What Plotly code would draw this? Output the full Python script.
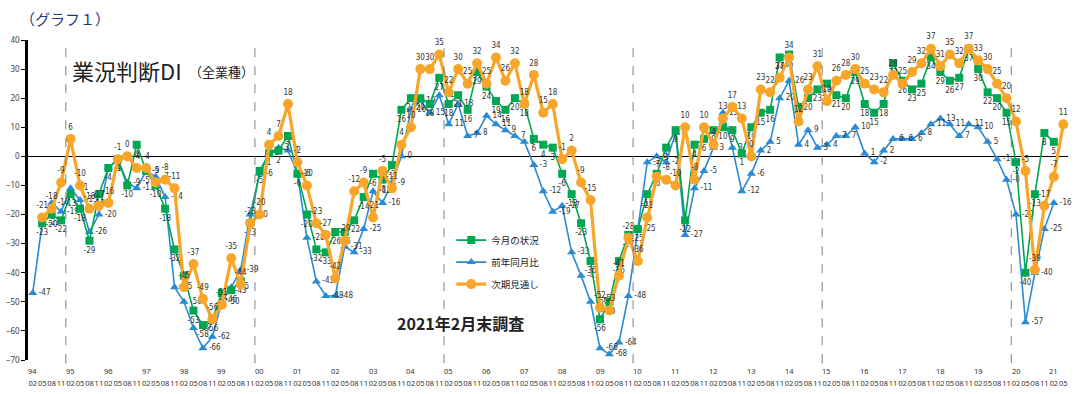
import plotly.graph_objects as go

YEARS = ['94','95','96','97','98','99','00','01','02','03','04','05','06','07',
         '08','09','10','11','12','13','14','15','16','17','18','19','20','21']
MONTHS = ['02','05','08','11']

# 今月の状況 (per year: Feb, May, Aug, Nov)
GENKYO = [None,-23,-20,-22,  -13,-18,-29,-13,  -4,-1,-10,4,  -5,-10,-18,-32,
          -41,-53,-58,-56,  -47,-46,-43,-23,  -5,1,2,7,  -6,-20,-32,-33,
          -26,-26,-22,-14,  -6,-8,-3,16,  20,20,18,27,  18,21,16,29,
          24,19,16,20,  18,6,4,3,  -6,-13,-23,-36,  -56,-50,-36,-27,
          -25,-13,-6,3,  9,-22,4,6,  9,10,9,1,  10,15,16,34,
          35,17,20,23,  25,21,20,29,  18,15,18,32,  26,23,25,34,
          29,26,27,37,  30,22,20,15,  -2,-40,-13,8,  5,None]
# 前年同月比
ZENNEN = [-47,-23,-16,-19,  -11,-15,-26,-20,  -4,-1,-9,-11,  -5,-7,-14,-45,
          -50,-59,-66,-62,  -50,-45,-39,-20,  -6,1,3,2,  -6,-28,-43,-48,
          -48,-31,-33,-25,  -12,-16,-9,0,  16,19,15,21,  11,18,7,8,
          14,11,9,7,  5,-3,-12,-19,  -17,-33,-41,-50,  -66,-68,-64,-48,
          -25,-2,0,-2,  8,-27,-11,-5,  3,15,3,-12,  -6,2,5,20,
          26,4,9,3,  4,7,7,10,  1,-2,2,6,  6,6,8,11,
          13,11,7,11,  10,5,-1,-8,  -20,-57,-40,-25,  -16,None]
# 次期見通し
JIKI = [None,-21,-18,-9,  6,-10,-18,-17,  -16,-1,0,-4,  -4,-9,-8,-11,
        -45,-37,-49,-56,  -51,-35,-44,-23,  -20,4,7,18,  -2,-10,-23,-27,
        -42,-29,-12,-9,  -21,-5,-11,4,  10,30,30,35,  22,30,25,32,
        25,34,26,32,  18,28,15,18,  -1,2,-9,-15,  -52,-53,-41,-28,
        -36,-21,-7,-8,  -10,10,-8,10,  4,13,17,13,  0,23,22,27,
        34,12,23,31,  19,26,28,30,  25,23,22,28,  25,29,32,37,
        31,35,32,37,  33,30,25,20,  12,-5,-39,-17,  -7,11]

PERIODS = [y + '/' + m for y in YEARS for m in MONTHS][:len(JIKI)]
N = len(PERIODS)
xs = list(range(N))
month_text = [p.split('/')[1] for p in PERIODS]

def lab(v):
    return '' if v is None else str(v)

GREEN = '#00A651'
BLUE = '#2A8AD4'
ORANGE = '#F8A62A'
LBL = dict(size=8, color='#333333',
           family='Liberation Sans Narrow, DejaVu Sans Condensed, Liberation Sans, sans-serif')

fig = go.Figure()
fig.add_trace(go.Scatter(
    x=xs, y=ZENNEN, name='前年同月比', mode='lines+markers+text',
    line=dict(color=BLUE, width=1.6),
    marker=dict(symbol='triangle-up', size=8, color=BLUE),
    text=[lab(v) for v in ZENNEN], textposition='middle right', textfont=LBL,
    legendrank=2, legendgroup='b', cliponaxis=False))
fig.add_trace(go.Scatter(
    x=xs, y=GENKYO, name='今月の状況', mode='lines+markers+text',
    line=dict(color=GREEN, width=1.6),
    marker=dict(symbol='square', size=8, color=GREEN),
    text=[lab(v) for v in GENKYO], textposition='bottom center', textfont=LBL,
    legendrank=1, legendgroup='g', cliponaxis=False))
fig.add_trace(go.Scatter(
    x=xs, y=JIKI, name='次期見通し', mode='lines+markers+text',
    line=dict(color=ORANGE, width=3.2),
    marker=dict(symbol='circle', size=10, color=ORANGE),
    text=[lab(v) for v in JIKI], textposition='top center', textfont=LBL,
    legendrank=3, legendgroup='o', cliponaxis=False))

shapes = []
for k in range(1, len(YEARS)):
    if YEARS[k] in ('95', '00', '05', '10', '15', '20'):
        b = 4 * k - 0.5
        shapes.append(dict(type='line', xref='x', yref='paper', x0=b, x1=b,
                           y0=-0.01, y1=1, line=dict(color='#808080', width=1, dash='dash')))

annotations = []
for k, y in enumerate(YEARS):
    annotations.append(dict(xref='x', yref='paper', x=4 * k, y=-0.033, text=y,
                            showarrow=False, font=dict(size=7.5, color='#333333',
                            family='Noto Sans, sans-serif'), yanchor='middle'))

JP = 'Noto Sans CJK JP'
annotations += [
    dict(xref='paper', yref='paper', x=-0.01, y=1.066, text='（グラフ１）',
         showarrow=False, xanchor='left', yanchor='middle',
         font=dict(size=15, color='#1f3b73', family=JP)),
    dict(xref='paper', yref='paper', x=0.040, y=0.906, text='業況判断DI',
         showarrow=False, xanchor='left', yanchor='middle',
         font=dict(size=22, color='#222222', family=JP)),
    dict(xref='paper', yref='paper', x=0.153, y=0.903, text='（全業種）',
         showarrow=False, xanchor='left', yanchor='middle',
         font=dict(size=13, color='#222222', family=JP)),
    dict(xref='paper', yref='paper', x=0.4163, y=0.116, text='<b>2021年2月末調査</b>',
         showarrow=False, xanchor='center', yanchor='middle',
         font=dict(size=16, color='#222222', family=JP)),
]

fig.update_layout(
    width=1080, height=394,
    margin=dict(l=28, r=12, t=40, b=34),
    paper_bgcolor='white', plot_bgcolor='white',
    showlegend=True,
    legend=dict(x=0.407, y=0.42, xanchor='left', yanchor='top',
                font=dict(size=9.5, family=JP, color='#222222'),
                bgcolor='rgba(0,0,0,0)', tracegroupgap=3),
    shapes=shapes, annotations=annotations,
    xaxis=dict(range=[-0.5, N - 0.5], tickvals=xs, ticktext=month_text,
               tickangle=0, tickfont=dict(size=7.5, color='#333333', family='Noto Sans, sans-serif'),
               showgrid=False, zeroline=False, showline=False, ticks='',
               ticklabelstandoff=17, automargin=False),
    yaxis=dict(range=[-70, 40], dtick=10, showgrid=False, automargin=False,
               showline=True, linecolor='black', linewidth=2.5,
               ticks='outside', ticklen=4, tickcolor='black',
               tickfont=dict(size=8, color='#404040', family='Noto Sans, sans-serif'),
               zeroline=True, zerolinecolor='black', zerolinewidth=1),
)

fig.write_html('out.html', post_script="document.body.style.margin='0px';",
               config={'displayModeBar': False})
